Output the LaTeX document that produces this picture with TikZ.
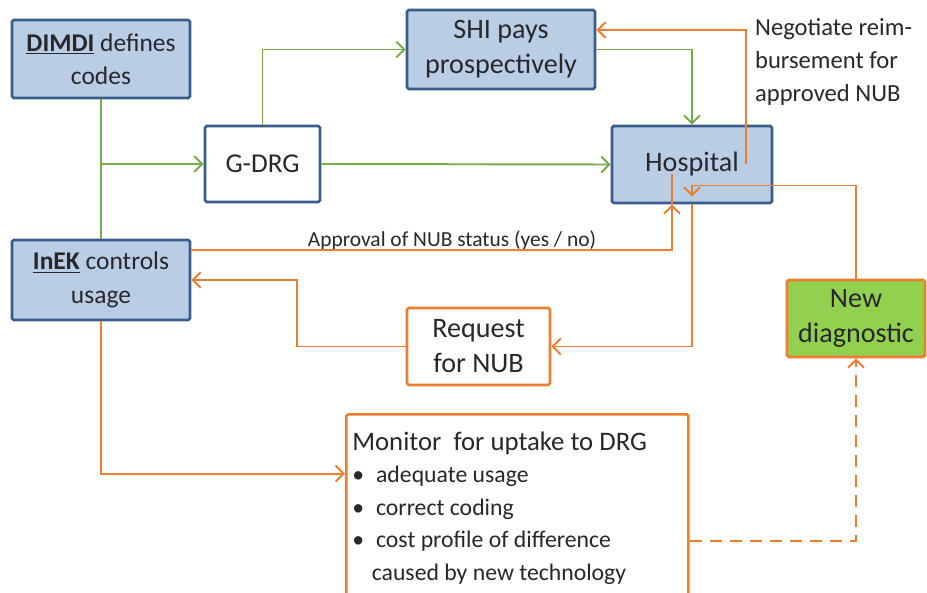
\documentclass[tikz,border=0pt]{standalone}
\usepackage{fontspec}
\setmainfont{Carlito}
\usetikzlibrary{arrows.meta,positioning,calc}
\definecolor{boxblue}{RGB}{185,205,229}
\definecolor{edgeblue}{RGB}{56,93,138}
\definecolor{lgreen}{RGB}{119,172,72}
\definecolor{orng}{RGB}{237,125,49}
\definecolor{diagreen}{RGB}{146,208,80}
\definecolor{ink}{RGB}{40,40,44}
\tikzset{
  box/.style={draw=#1,line width=1.5pt,rounded corners=1pt,align=center,text=ink,
    font=\fontsize{16}{20}\selectfont,inner sep=2pt},
  box/.default=edgeblue,
  agency/.style={box,fill=boxblue},
  obox/.style={box=orng,fill=white},
  gflow/.style={-{Straight Barb[length=1.6mm,width=3.2mm]},line width=1.1pt,draw=lgreen},
  oflow/.style={-{Straight Barb[length=1.6mm,width=3.2mm]},line width=1.1pt,draw=orng},
  lbl/.style={text=ink,inner sep=1pt},
}
\begin{document}
\begin{tikzpicture}[x=0.2mm,y=-0.2mm]
    \useasboundingbox (0,0) rectangle (927,593);
    % boxes
    \node[agency,font=\fontsize{14.5}{19}\selectfont,minimum width=35.6mm,minimum height=15.6mm] (dimdi) at (101,59) {\underline{\textbf{DIMDI}} defines\\codes};
    \node[box,fill=white,font=\fontsize{15.5}{19}\selectfont,minimum width=23mm,minimum height=15.2mm] (gdrg) at (262.5,164) {G-DRG};
    \node[agency,minimum width=37.6mm,minimum height=15.8mm] (shi) at (501,49.5) {SHI pays\\prospectively};
    \node[agency,minimum width=32mm,minimum height=15.4mm] (hosp) at (692,164.5) {Hospital};
    \node[agency,font=\fontsize{14.5}{19}\selectfont,minimum width=35.6mm,minimum height=16mm] (inek) at (101,280) {\underline{\textbf{InEK}} controls\\usage};
    \node[obox,minimum width=28.6mm,minimum height=15.4mm] (req) at (478.5,346.5) {Request\\for NUB};
    \node[box=orng,fill=diagreen,minimum width=27.6mm,minimum height=15.4mm] (ndiag) at (856,318.5) {New\\diagnostic};
    \node[obox,anchor=north west,align=flush left,text width=66mm,minimum height=37.5mm,inner sep=1.2mm,
      font=\fontsize{15.2}{18.5}\selectfont] (mon) at (345,413)
      {Monitor\ \ for uptake to DRG\\
       {\fontsize{13.5}{18.5}\selectfont
       \textbullet\hspace{2.4mm}adequate usage\\
       \textbullet\hspace{2.4mm}correct coding\\
       \textbullet\hspace{2.4mm}cost profile of difference\\
       \hspace*{3.9mm}caused by new technology}};
    % labels
    \node[lbl,anchor=north west,align=left,font=\fontsize{14}{19}\selectfont] (nego) at (753,16)
      {Negotiate reim-\\bursement for\\approved NUB};
    \node[lbl,font=\fontsize{12.2}{14}\selectfont] (appr) at (452,240) {Approval of NUB status (yes / no)};
    % green flows
    \coordinate (j1) at (dimdi.south |- gdrg.west);
    \draw[gflow,-] (dimdi.south) -- (inek.north);
    \draw[gflow] (j1) -- (gdrg.west);
    \draw[gflow] (gdrg.north) |- (shi.west);
    \draw[gflow] (gdrg.east) -- (hosp.west);
    \draw[gflow] (shi.east) -| (hosp.north);
    % orange flows
    \draw[oflow] ([xshift=10.8mm]hosp.center) |- ([yshift=3.9mm]shi.east);
    \draw[oflow] ([yshift=6mm]inek.east) -| ([xshift=-4mm]hosp.south);
    \draw[orng,line width=1.1pt] ([xshift=-4mm]hosp.south) -- ([xshift=-4mm,yshift=6mm]hosp.south);
    \coordinate (hin) at ([yshift=-4.2mm]hosp.center);
    \draw[oflow] (ndiag.north) |- (hin) -- ++(0,-2.2mm);
    \draw[oflow] (hosp.south) |- (req.east);
    \draw[oflow] (req.west) -- ++(-21.8mm,0) |- (inek.east);
    \draw[oflow] (inek.south) |- ([yshift=6.9mm]mon.west);
    \draw[oflow,dashed,dash pattern=on 2.4mm off 1.6mm] ([yshift=-6.5mm]mon.east) -| (ndiag.south);
  \end{tikzpicture}
\end{document}
